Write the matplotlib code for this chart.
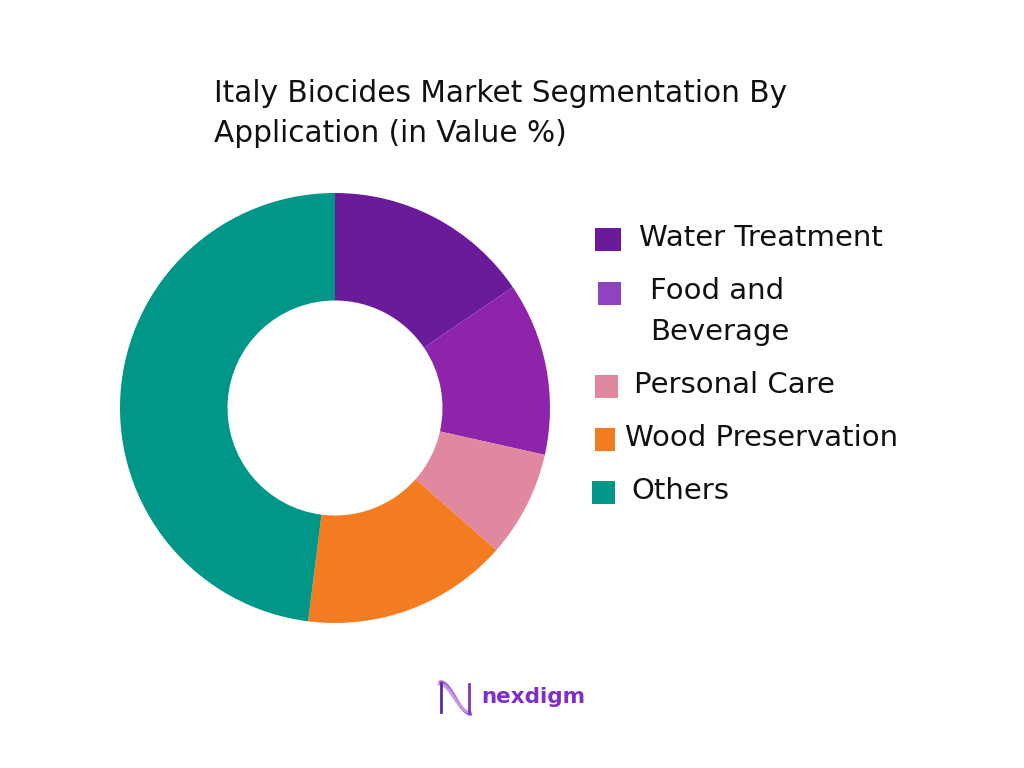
import numpy as np
import matplotlib.pyplot as plt
from matplotlib.patches import Rectangle

# segment shares (clockwise from the top)
labels = ['Water Treatment', 'Food and\nBeverage', 'Personal Care', 'Wood Preservation', 'Others']
shares = [15.5, 13.0, 8.0, 15.5, 48.0]
slice_colors = ['#6A1B9A', '#8E24AA', '#DF889F', '#F47C20', '#009688']
legend_colors = ['#6A1B9A', '#8E44BE', '#DF889F', '#F47C20', '#009688']

W, H = 1024, 768
plt.rcParams['font.family'] = ['DejaVu Sans']

fig = plt.figure(figsize=(W / 100, H / 100), dpi=100)
fig.patch.set_facecolor('white')

def fx(px):
    return px / W

def fy(py):
    return 1 - py / H

# donut
cx, cy, r = 335, 408, 215
ax = fig.add_axes([fx(cx - r), fy(cy + r), 2 * r / W, 2 * r / H])
ax.pie(shares, colors=slice_colors, startangle=90, counterclock=False,
       radius=1, wedgeprops=dict(width=0.5, edgecolor='none'))
ax.set_xlim(-1, 1)
ax.set_ylim(-1, 1)
ax.set_aspect('equal')
ax.axis('off')

# title
fig.text(fx(214), fy(93), 'Italy Biocides Market Segmentation By', fontsize=21.3,
         color='#111111', va='center', ha='left')
fig.text(fx(214), fy(134), 'Application (in Value %)', fontsize=21.3,
         color='#111111', va='center', ha='left')

# legend, placed by hand as in the reference
marker_boxes = [(595, 228, 26, 23), (598, 282, 23, 23), (595, 375, 23, 23),
                (595, 428, 20, 23), (592, 481, 23, 23)]
text_pos = [(639, 238), (650, 291), (634, 385), (625, 438), (631, 491)]
for (mx, my, mw, mh), (tx, ty), lab, col in zip(marker_boxes, text_pos, labels, legend_colors):
    fig.patches.append(Rectangle((fx(mx), fy(my + mh)), mw / W, mh / H,
                                 transform=fig.transFigure, color=col, lw=0))
    for i, line in enumerate(lab.split('\n')):
        fig.text(fx(tx), fy(ty + 41 * i), line, fontsize=21, color='#111111',
                 va='center', ha='left')

# logo
lax = fig.add_axes([fx(437), fy(716), 36 / W, 36 / H])
t = np.linspace(0, 1, 100)
for k, c in zip([0, 0.08, -0.08], ['#5B2A9E', '#A66BD6', '#C99BE6']):
    lax.plot(t + k * 0.3, 0.5 + 0.42 * np.cos(np.pi * t) * (1 + k), color=c, lw=2.0)
lax.plot([0.02, 0.02], [0.1, 0.92], color='#5B2A9E', lw=2.0)
lax.plot([0.98, 0.98], [0.08, 0.9], color='#7B3AB8', lw=2.0)
lax.set_xlim(-0.1, 1.1)
lax.set_ylim(0, 1)
lax.axis('off')
fig.text(fx(481), fy(697), 'nexdigm', fontsize=15.5, fontweight='bold',
         color='#7E2FC8', va='center', ha='left')

fig.savefig('out.png', dpi=100, facecolor='white')
